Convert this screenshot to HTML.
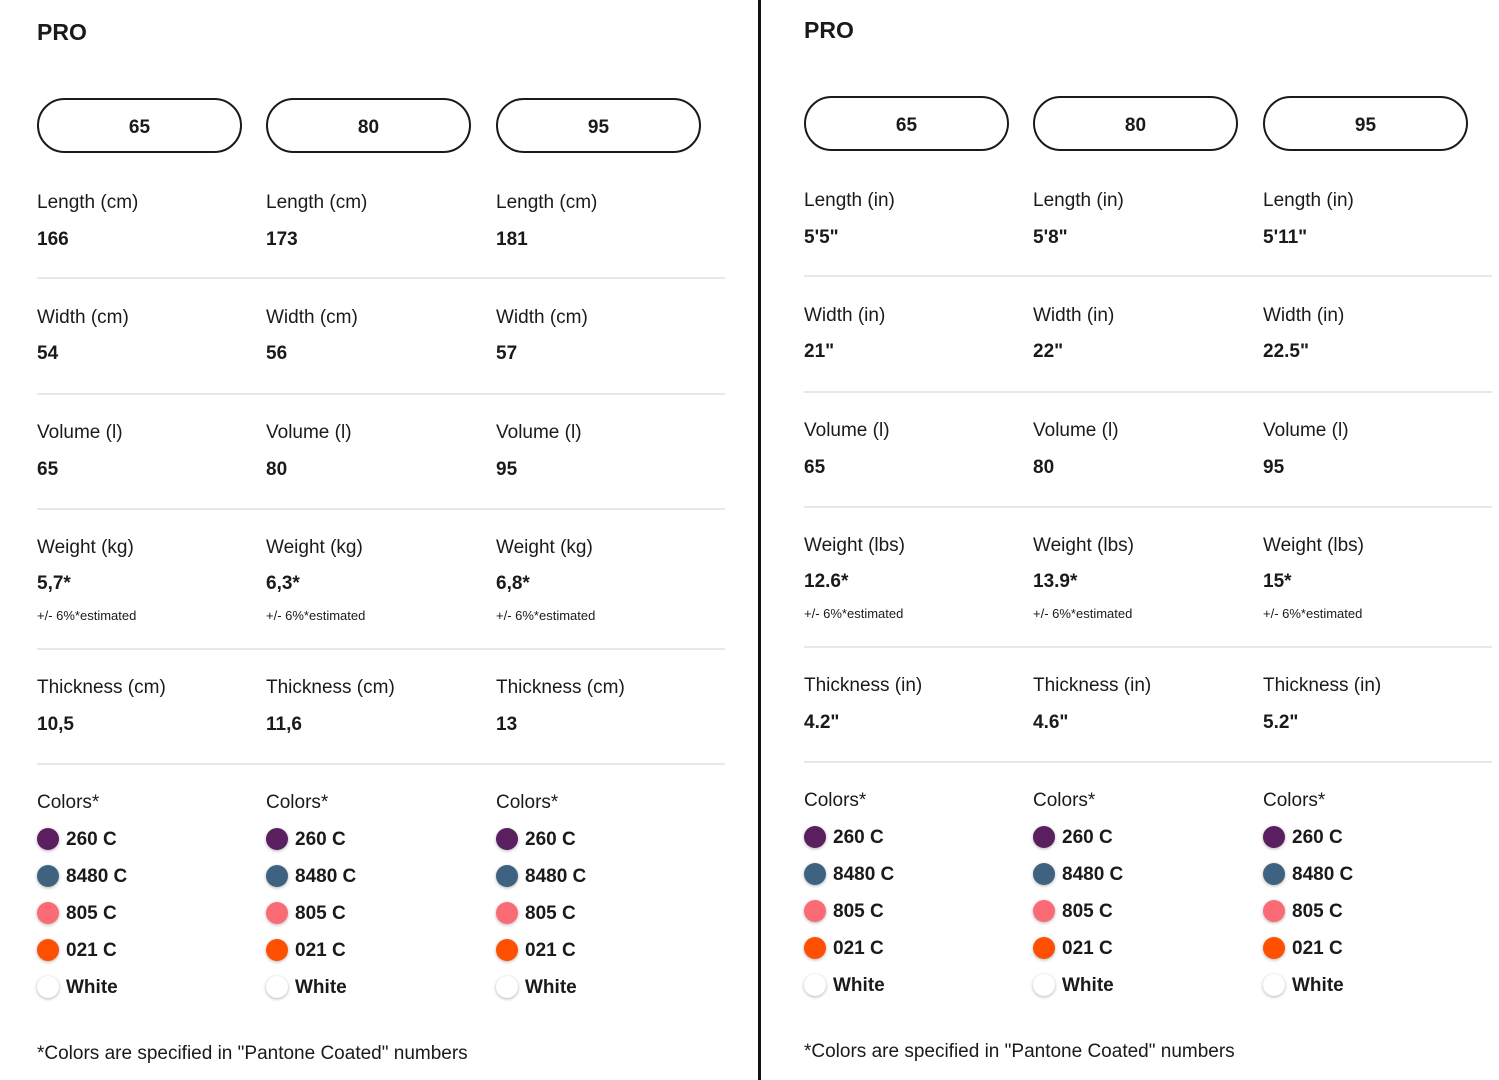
<!DOCTYPE html>
<html><head><meta charset="utf-8"><style>
body{margin:0;width:1499px;height:1080px;background:#fff;position:relative;overflow:hidden;font-family:"Liberation Sans",sans-serif;color:#1a1a1a}
.p{position:absolute;top:0;width:720px;height:1080px}
.t{position:absolute;line-height:20px;white-space:nowrap;margin-top:2px}
.h{font-size:23px;font-weight:bold;line-height:24px}
.l{font-size:19px}
.v{font-size:19px;font-weight:bold}
.s{font-size:13px;line-height:14px}
.pill{position:absolute;top:98px;width:201px;height:51px;border:2px solid #1a1a1a;border-radius:28px;text-align:center;line-height:55px;font-size:19px;font-weight:bold}
.sep{position:absolute;left:0;width:688px;height:2px;background:#e8e8e8}
.d{position:absolute;width:22px;height:22px;border-radius:50%;box-shadow:0 1px 3px rgba(0,0,0,.3)}
.div{position:absolute;left:758px;top:0;width:3px;height:1080px;background:#111}
</style></head><body>
<div class="div"></div>

<div class="p" style="left:37px;top:0">
<div class="t h" style="left:0;top:18px">PRO</div>
<div class="pill" style="left:0">65</div><div class="pill" style="left:229px">80</div><div class="pill" style="left:459px">95</div>
<div class="t l" style="left:0;top:191px">Length (cm)</div><div class="t l" style="left:229px;top:191px">Length (cm)</div><div class="t l" style="left:459px;top:191px">Length (cm)</div>
<div class="t v" style="left:0;top:228px">166</div><div class="t v" style="left:229px;top:228px">173</div><div class="t v" style="left:459px;top:228px">181</div>
<div class="sep" style="top:277px"></div>
<div class="t l" style="left:0;top:306px">Width (cm)</div><div class="t l" style="left:229px;top:306px">Width (cm)</div><div class="t l" style="left:459px;top:306px">Width (cm)</div>
<div class="t v" style="left:0;top:342px">54</div><div class="t v" style="left:229px;top:342px">56</div><div class="t v" style="left:459px;top:342px">57</div>
<div class="sep" style="top:393px"></div>
<div class="t l" style="left:0;top:421px">Volume (l)</div><div class="t l" style="left:229px;top:421px">Volume (l)</div><div class="t l" style="left:459px;top:421px">Volume (l)</div>
<div class="t v" style="left:0;top:458px">65</div><div class="t v" style="left:229px;top:458px">80</div><div class="t v" style="left:459px;top:458px">95</div>
<div class="sep" style="top:508px"></div>
<div class="t l" style="left:0;top:536px">Weight (kg)</div><div class="t l" style="left:229px;top:536px">Weight (kg)</div><div class="t l" style="left:459px;top:536px">Weight (kg)</div>
<div class="t v" style="left:0;top:572px">5,7*</div><div class="t v" style="left:229px;top:572px">6,3*</div><div class="t v" style="left:459px;top:572px">6,8*</div>
<div class="t s" style="left:0;top:607px">+/- 6%*estimated</div><div class="t s" style="left:229px;top:607px">+/- 6%*estimated</div><div class="t s" style="left:459px;top:607px">+/- 6%*estimated</div>
<div class="sep" style="top:648px"></div>
<div class="t l" style="left:0;top:676px">Thickness (cm)</div><div class="t l" style="left:229px;top:676px">Thickness (cm)</div><div class="t l" style="left:459px;top:676px">Thickness (cm)</div>
<div class="t v" style="left:0;top:713px">10,5</div><div class="t v" style="left:229px;top:713px">11,6</div><div class="t v" style="left:459px;top:713px">13</div>
<div class="sep" style="top:763px"></div>
<div class="t l" style="left:0;top:791px">Colors*</div><div class="t l" style="left:229px;top:791px">Colors*</div><div class="t l" style="left:459px;top:791px">Colors*</div>

<div class="d" style="left:0;top:828px;background:#5a1f5e"></div><div class="t v" style="left:29px;top:828px">260 C</div>
<div class="d" style="left:0;top:865px;background:#3e6280"></div><div class="t v" style="left:29px;top:865px">8480 C</div>
<div class="d" style="left:0;top:902px;background:#fb6b76"></div><div class="t v" style="left:29px;top:902px">805 C</div>
<div class="d" style="left:0;top:939px;background:#fe5000"></div><div class="t v" style="left:29px;top:939px">021 C</div>
<div class="d" style="left:0;top:976px;background:#fff"></div><div class="t v" style="left:29px;top:976px">White</div>

<div class="d" style="left:229px;top:828px;background:#5a1f5e"></div><div class="t v" style="left:258px;top:828px">260 C</div>
<div class="d" style="left:229px;top:865px;background:#3e6280"></div><div class="t v" style="left:258px;top:865px">8480 C</div>
<div class="d" style="left:229px;top:902px;background:#fb6b76"></div><div class="t v" style="left:258px;top:902px">805 C</div>
<div class="d" style="left:229px;top:939px;background:#fe5000"></div><div class="t v" style="left:258px;top:939px">021 C</div>
<div class="d" style="left:229px;top:976px;background:#fff"></div><div class="t v" style="left:258px;top:976px">White</div>

<div class="d" style="left:459px;top:828px;background:#5a1f5e"></div><div class="t v" style="left:488px;top:828px">260 C</div>
<div class="d" style="left:459px;top:865px;background:#3e6280"></div><div class="t v" style="left:488px;top:865px">8480 C</div>
<div class="d" style="left:459px;top:902px;background:#fb6b76"></div><div class="t v" style="left:488px;top:902px">805 C</div>
<div class="d" style="left:459px;top:939px;background:#fe5000"></div><div class="t v" style="left:488px;top:939px">021 C</div>
<div class="d" style="left:459px;top:976px;background:#fff"></div><div class="t v" style="left:488px;top:976px">White</div>

<div class="t l" style="left:0;top:1042px">*Colors are specified in "Pantone Coated" numbers</div>
</div>

<div class="p" style="left:804px;top:-2px">
<div class="t h" style="left:0;top:18px">PRO</div>
<div class="pill" style="left:0">65</div><div class="pill" style="left:229px">80</div><div class="pill" style="left:459px">95</div>
<div class="t l" style="left:0;top:191px">Length (in)</div><div class="t l" style="left:229px;top:191px">Length (in)</div><div class="t l" style="left:459px;top:191px">Length (in)</div>
<div class="t v" style="left:0;top:228px">5'5"</div><div class="t v" style="left:229px;top:228px">5'8"</div><div class="t v" style="left:459px;top:228px">5'11"</div>
<div class="sep" style="top:277px"></div>
<div class="t l" style="left:0;top:306px">Width (in)</div><div class="t l" style="left:229px;top:306px">Width (in)</div><div class="t l" style="left:459px;top:306px">Width (in)</div>
<div class="t v" style="left:0;top:342px">21"</div><div class="t v" style="left:229px;top:342px">22"</div><div class="t v" style="left:459px;top:342px">22.5"</div>
<div class="sep" style="top:393px"></div>
<div class="t l" style="left:0;top:421px">Volume (l)</div><div class="t l" style="left:229px;top:421px">Volume (l)</div><div class="t l" style="left:459px;top:421px">Volume (l)</div>
<div class="t v" style="left:0;top:458px">65</div><div class="t v" style="left:229px;top:458px">80</div><div class="t v" style="left:459px;top:458px">95</div>
<div class="sep" style="top:508px"></div>
<div class="t l" style="left:0;top:536px">Weight (lbs)</div><div class="t l" style="left:229px;top:536px">Weight (lbs)</div><div class="t l" style="left:459px;top:536px">Weight (lbs)</div>
<div class="t v" style="left:0;top:572px">12.6*</div><div class="t v" style="left:229px;top:572px">13.9*</div><div class="t v" style="left:459px;top:572px">15*</div>
<div class="t s" style="left:0;top:607px">+/- 6%*estimated</div><div class="t s" style="left:229px;top:607px">+/- 6%*estimated</div><div class="t s" style="left:459px;top:607px">+/- 6%*estimated</div>
<div class="sep" style="top:648px"></div>
<div class="t l" style="left:0;top:676px">Thickness (in)</div><div class="t l" style="left:229px;top:676px">Thickness (in)</div><div class="t l" style="left:459px;top:676px">Thickness (in)</div>
<div class="t v" style="left:0;top:713px">4.2"</div><div class="t v" style="left:229px;top:713px">4.6"</div><div class="t v" style="left:459px;top:713px">5.2"</div>
<div class="sep" style="top:763px"></div>
<div class="t l" style="left:0;top:791px">Colors*</div><div class="t l" style="left:229px;top:791px">Colors*</div><div class="t l" style="left:459px;top:791px">Colors*</div>

<div class="d" style="left:0;top:828px;background:#5a1f5e"></div><div class="t v" style="left:29px;top:828px">260 C</div>
<div class="d" style="left:0;top:865px;background:#3e6280"></div><div class="t v" style="left:29px;top:865px">8480 C</div>
<div class="d" style="left:0;top:902px;background:#fb6b76"></div><div class="t v" style="left:29px;top:902px">805 C</div>
<div class="d" style="left:0;top:939px;background:#fe5000"></div><div class="t v" style="left:29px;top:939px">021 C</div>
<div class="d" style="left:0;top:976px;background:#fff"></div><div class="t v" style="left:29px;top:976px">White</div>

<div class="d" style="left:229px;top:828px;background:#5a1f5e"></div><div class="t v" style="left:258px;top:828px">260 C</div>
<div class="d" style="left:229px;top:865px;background:#3e6280"></div><div class="t v" style="left:258px;top:865px">8480 C</div>
<div class="d" style="left:229px;top:902px;background:#fb6b76"></div><div class="t v" style="left:258px;top:902px">805 C</div>
<div class="d" style="left:229px;top:939px;background:#fe5000"></div><div class="t v" style="left:258px;top:939px">021 C</div>
<div class="d" style="left:229px;top:976px;background:#fff"></div><div class="t v" style="left:258px;top:976px">White</div>

<div class="d" style="left:459px;top:828px;background:#5a1f5e"></div><div class="t v" style="left:488px;top:828px">260 C</div>
<div class="d" style="left:459px;top:865px;background:#3e6280"></div><div class="t v" style="left:488px;top:865px">8480 C</div>
<div class="d" style="left:459px;top:902px;background:#fb6b76"></div><div class="t v" style="left:488px;top:902px">805 C</div>
<div class="d" style="left:459px;top:939px;background:#fe5000"></div><div class="t v" style="left:488px;top:939px">021 C</div>
<div class="d" style="left:459px;top:976px;background:#fff"></div><div class="t v" style="left:488px;top:976px">White</div>

<div class="t l" style="left:0;top:1042px">*Colors are specified in "Pantone Coated" numbers</div>
</div>
</body></html>
